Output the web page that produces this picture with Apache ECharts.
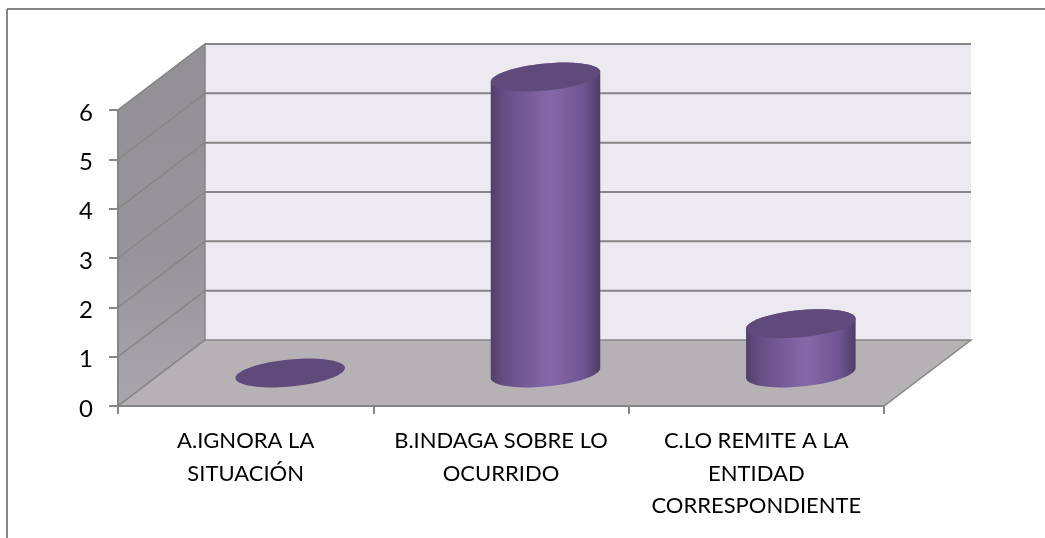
<!DOCTYPE html>
<html>
<head>
<meta charset="utf-8">
<script src="https://cdn.jsdelivr.net/npm/echarts@6/dist/echarts.min.js"></script>
<style>
  html, body { margin: 0; padding: 0; background: #fff; }
  #main { width: 1045px; height: 538px; }
</style>
</head>
<body>
<div id="main"></div>
<script>
const categories = ['A.IGNORA LA\nSITUACIÓN', 'B.INDAGA SOBRE LO\nOCURRIDO', 'C.LO REMITE A LA\nENTIDAD\nCORRESPONDIENTE'];
const values = [0, 6, 1];
const yTicks = [0, 1, 2, 3, 4, 5, 6];

// depth of the fake 3d box, in px
const DX = 87;
const DY = -66;
const LINE = '#868686';
// cylinder cap: half axes and tilt
const CAP_A = 55;
const CAP_B = 13.5;
const TILT = 5.5 * Math.PI / 180;

const chart = echarts.init(document.getElementById('main'));

// points of a tilted ellipse, t0 -> t1
function arcPoints(cx, cy, t0, t1) {
  const pts = [];
  for (let i = 0; i <= 48; i++) {
    const t = t0 + (t1 - t0) * i / 48;
    pts.push([
      cx + CAP_A * Math.cos(t) * Math.cos(TILT) + CAP_B * Math.sin(t) * Math.sin(TILT),
      cy - CAP_A * Math.cos(t) * Math.sin(TILT) + CAP_B * Math.sin(t) * Math.cos(TILT)
    ]);
  }
  return pts;
}

function renderFloor(params) {
  const c = params.coordSys;
  const left = c.x, right = c.x + c.width, top = c.y, bottom = c.y + c.height;
  return {
    type: 'group',
    children: [
      { type: 'polygon', shape: { points: [[left + DX, top + DY], [right + DX, top + DY], [right + DX, bottom + DY], [left + DX, bottom + DY]] },
        style: { fill: '#ece9f1' } },
      { type: 'polygon', shape: { points: [[left, top], [left + DX, top + DY], [left + DX, bottom + DY], [left, bottom]] },
        style: { fill: new echarts.graphic.LinearGradient(0, 0, 0, 1, [{ offset: 0, color: '#929094' }, { offset: 0.6, color: '#979599' }, { offset: 1, color: '#a9a7ab' }]), stroke: LINE, lineWidth: 1.5 } },
      { type: 'polygon', shape: { points: [[left, bottom], [right, bottom], [right + DX, bottom + DY], [left + DX, bottom + DY]] },
        style: { fill: '#b5b1b5', stroke: LINE, lineWidth: 1.5 } }
    ]
  };
}

function renderGridLine(params, api) {
  const c = params.coordSys;
  const y = api.coord([0, api.value(0)])[1];
  const left = c.x, right = c.x + c.width;
  return {
    type: 'group',
    children: [
      { type: 'line', shape: { x1: left, y1: y, x2: left + DX, y2: y + DY }, style: { stroke: LINE, lineWidth: 1.5 } },
      { type: 'line', shape: { x1: left + DX, y1: y + DY, x2: right + DX, y2: y + DY }, style: { stroke: LINE, lineWidth: 2 } }
    ]
  };
}

function renderCylinder(params, api) {
  const base = api.coord([api.value(0), 0]);
  const head = api.coord([api.value(0), api.value(1)]);
  const cx = base[0] + DX / 2 + 1;
  const baseY = base[1] + DY / 2;
  const headY = head[1] + DY / 2;
  const t0 = Math.atan2(CAP_B * Math.sin(TILT), CAP_A * Math.cos(TILT));
  const topPts = arcPoints(cx, headY, t0, t0 + 2 * Math.PI);
  const children = [];
  if (api.value(1) > 0) {
    const body = arcPoints(cx, headY, t0 + Math.PI, t0 + 2 * Math.PI)
      .concat(arcPoints(cx, baseY, t0, t0 + Math.PI));
    children.push({
      type: 'polygon',
      shape: { points: body },
      style: {
        fill: new echarts.graphic.LinearGradient(0, 0, 1, 0, [
          { offset: 0, color: '#523f6d' },
          { offset: 0.12, color: '#654e84' },
          { offset: 0.55, color: '#8768aa' },
          { offset: 0.85, color: '#6e5590' },
          { offset: 1, color: '#4e3e66' }
        ])
      }
    });
  }
  children.push({ type: 'polygon', shape: { points: topPts }, style: { fill: '#604a7b' } });
  return { type: 'group', children: children };
}

chart.setOption({
  animation: false,
  backgroundColor: '#fff',
  graphic: [
    { type: 'line', shape: { x1: 7, y1: 9, x2: 1045, y2: 9 }, style: { stroke: LINE, lineWidth: 2 } },
    { type: 'line', shape: { x1: 7, y1: 9, x2: 7, y2: 538 }, style: { stroke: LINE, lineWidth: 2 } }
  ],
  grid: { left: 118, right: 161, top: 110, bottom: 132 },
  xAxis: {
    type: 'category',
    data: categories,
    z: 2,
    axisLine: { show: true, lineStyle: { color: LINE, width: 2 } },
    axisTick: { show: true, length: 8, alignWithLabel: false, lineStyle: { color: LINE, width: 2 } },
    axisLabel: { interval: 0, fontFamily: 'Lato', fontSize: 22, color: '#000', lineHeight: 32.5, margin: 19 },
    splitLine: { show: false }
  },
  yAxis: {
    type: 'value',
    min: 0,
    max: 6,
    interval: 1,
    z: 2,
    axisLine: { show: true, lineStyle: { color: LINE, width: 2 } },
    axisTick: { show: true, length: 9, lineStyle: { color: LINE, width: 2 } },
    // top + small lineHeight pushes the digits a little below their tick
    axisLabel: { fontFamily: 'Lato', fontSize: 24, color: '#000', margin: 25, verticalAlign: 'top', lineHeight: 6, alignMinLabel: 'right', alignMaxLabel: 'right' },
    splitLine: { show: false }
  },
  series: [
    { type: 'custom', z: 1, silent: true, data: [0], renderItem: renderFloor },
    { type: 'custom', z: 1.5, silent: true, encode: { y: 0 }, data: yTicks.slice(1).map(v => [v]), renderItem: renderGridLine },
    { type: 'custom', z: 3, silent: true, encode: { x: 0, y: 1 }, data: values.map((v, i) => [i, v]), renderItem: renderCylinder }
  ]
});
</script>
</body>
</html>
